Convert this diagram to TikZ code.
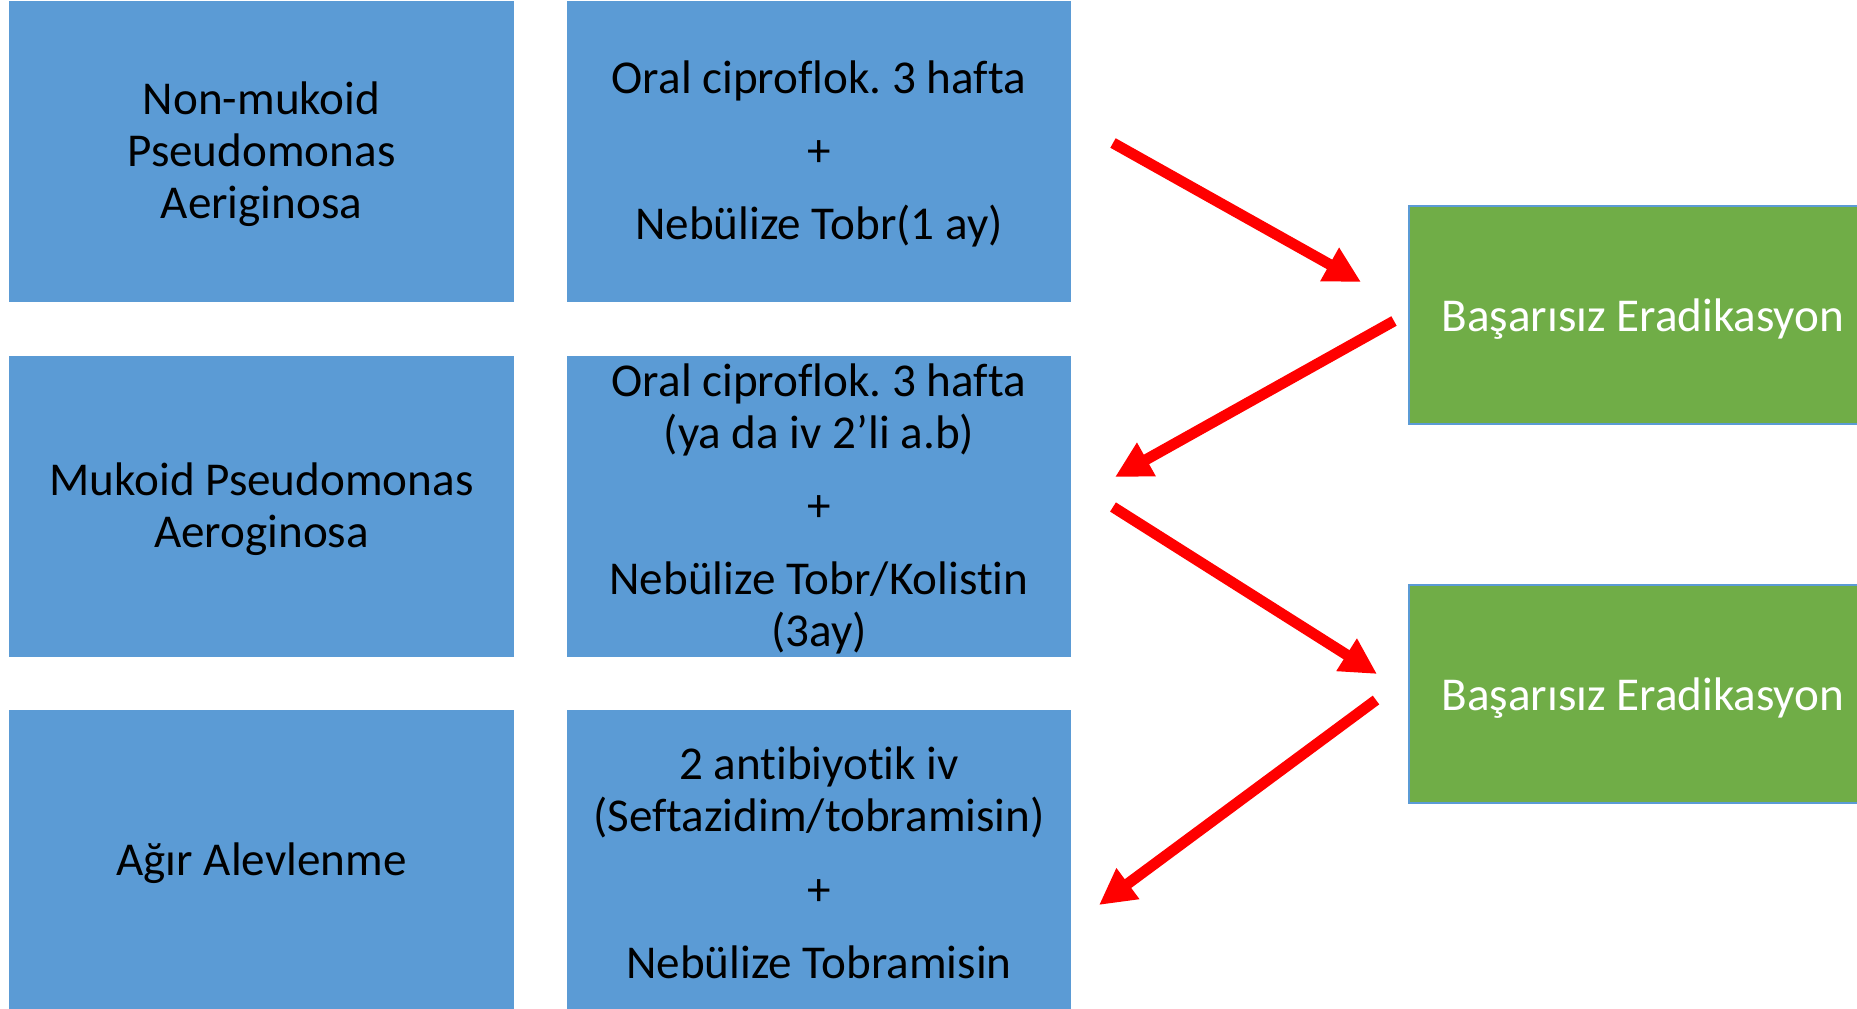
\documentclass[tikz,border=0pt]{standalone}
\usepackage{fontspec}
\setmainfont{Carlito}[Ligatures=NoCommon]
\frenchspacing
\usetikzlibrary{arrows.meta}
\definecolor{boxblue}{HTML}{5B9BD5}
\definecolor{boxgreen}{HTML}{70AD47}
\definecolor{arrowred}{HTML}{FF0000}
\tikzset{
  bluebox/.style={fill=boxblue, draw=none, minimum width=5.04cm, minimum height=3.01cm,
    inner sep=0pt},
  bluetext/.style={align=center, text=black, inner sep=0pt, yshift=-0.024cm,
    font=\fontsize{13.4}{14.8}\selectfont},
  greenbox/.style={fill=boxgreen, draw=boxblue, line width=0.4pt, minimum width=4.68cm,
    minimum height=2.18cm, inner sep=0pt},
  greentext/.style={align=center, text=white, inner sep=0pt, yshift=-0.045cm,
    font=\fontsize{13.4}{14.8}\selectfont},
  redarrow/.style={draw=arrowred, line width=3.1pt,
    -{Triangle[length=0.36cm, width=0.36cm]}}
}
\begin{document}
\begin{tikzpicture}[x=0.01cm, y=-0.01cm]
  \useasboundingbox (0,0) rectangle (1857,1009);
  \clip (0,0) rectangle (1857,1009);

  % left column: conditions
  \node[bluebox, label={[bluetext]center:{Non-mukoid\\Pseudomonas\\Aeriginosa}}] (c1) at (261.5,151.5) {};
  \node[bluebox, label={[bluetext]center:{Mukoid Pseudomonas\\Aeroginosa}}] (c2) at (261.5,506.5) {};
  \node[bluebox, label={[bluetext]center:{Ağır Alevlenme}}] (c3) at (261.5,860.5) {};

  % middle column: treatments
  \node[bluebox, label={[bluetext]center:{Oral ciproflok. 3 hafta\\[6pt]+\\[6pt]Nebülize Tobr(1 ay)}}] (t1) at (819,151.5) {};
  \node[bluebox, label={[bluetext]center:{Oral ciproflok. 3 hafta\\(ya da iv 2’li a.b)\\[6pt]+\\[6pt]Nebülize Tobr/Kolistin\\(3ay)}}] (t2) at (819,506.5) {};
  \node[bluebox, label={[bluetext]center:{2 antibiyotik iv\\(Seftazidim/tobramisin)\\[6pt]+\\[6pt]Nebülize Tobramisin}}] (t3) at (819,860.5) {};

  % right column: outcomes
  \node[greenbox, label={[greentext]center:{Başarısız Eradikasyon}}] (f1) at (1643,315) {};
  \node[greenbox, label={[greentext]center:{Başarısız Eradikasyon}}] (f2) at (1643,694) {};

  % arrow ends
  \coordinate (a1s) at (1113,143);
  \coordinate (a1e) at (1361,282);
  \coordinate (a2s) at (1394,321);
  \coordinate (a2e) at (1115,477);
  \coordinate (a3s) at (1113,507);
  \coordinate (a3e) at (1377,674);
  \coordinate (a4s) at (1376,700);
  \coordinate (a4e) at (1099,905);

  \draw[redarrow] (a1s) -- (a1e);
  \draw[redarrow] (a2s) -- (a2e);
  \draw[redarrow] (a3s) -- (a3e);
  \draw[redarrow] (a4s) -- (a4e);
\end{tikzpicture}
\end{document}
